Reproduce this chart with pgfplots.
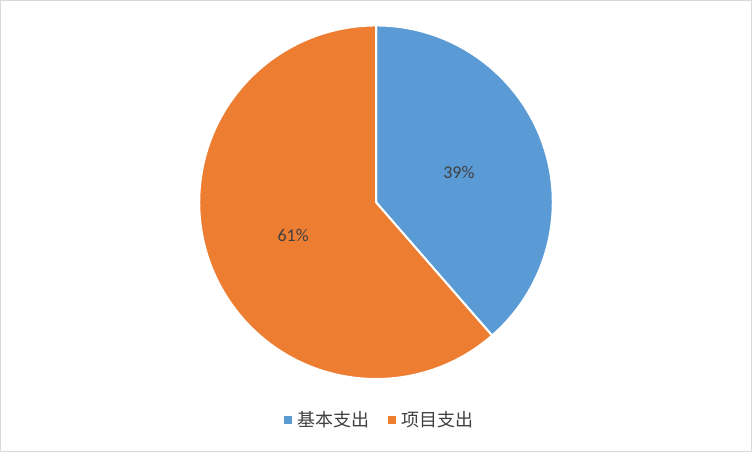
\documentclass[border=0pt]{standalone}
\usepackage{fontspec}
\setmainfont{Carlito}
\newfontfamily\cjk{Noto Sans CJK SC}
\usepackage{pgfplots}
\usepackage{pgfplotstable}
\pgfplotsset{compat=1.18}
\definecolor{basic}{HTML}{5B9BD5}
\definecolor{project}{HTML}{ED7D31}
\definecolor{labelgray}{HTML}{404040}
\definecolor{framegray}{HTML}{D9D9D9}

\pgfplotstableread{
name value
basic 38.6
project 61.4
}\piedata
\pgfplotstablegetelem{0}{value}\of\piedata
\let\valA\pgfplotsretval
\pgfmathsetmacro\angA{90-3.6*\valA}

\begin{document}
\begin{tikzpicture}
\begin{axis}[
    scale only axis,
    width=564pt, height=339pt,
    xmin=0, xmax=752, ymin=0, ymax=452,
    xtick=\empty, ytick=\empty,
    axis line style={draw=framegray, line width=0.75pt},
    clip=false,
    legend style={at={(axis cs:380,32)}, anchor=center, draw=none, fill=none,
        legend columns=2, font=\cjk\fontsize{13.5}{15}\selectfont,
        text=labelgray,
        /tikz/every odd column/.append style={column sep=2.5pt},
        /tikz/every even column/.append style={column sep=12pt}},
    legend image code/.code={\fill[#1] (0pt,-2.6pt) rectangle (5.2pt,2.6pt);},
]
\addlegendimage{basic}
\addlegendentry{基本支出}
\addlegendimage{project}
\addlegendentry{项目支出}
% slices
\fill[basic, draw=white, line width=1.5pt] (axis cs:376,250) -- ++(90:177)
    arc[start angle=90, end angle=\angA, radius=177] -- cycle;
\fill[project, draw=white, line width=1.5pt] (axis cs:376,250) -- ++(\angA:177)
    arc[start angle=\angA, end angle=-270, radius=177] -- cycle;
\node[text=labelgray, font=\fontsize{13.5}{16}\selectfont] at (axis cs:459,280) {39\%};
\node[text=labelgray, font=\fontsize{13.5}{16}\selectfont] at (axis cs:293,217) {61\%};
\end{axis}
\end{tikzpicture}
\end{document}
